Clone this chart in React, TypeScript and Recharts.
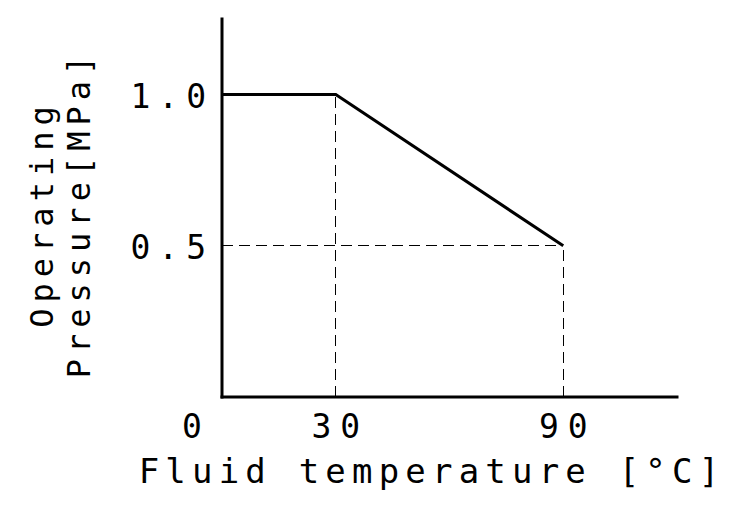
import React from "react";
import { LineChart, Line, XAxis, YAxis, ReferenceLine, Label } from "recharts";

// operating pressure vs fluid temperature
const temperatures = [0, 30, 90];
const pressures = [1.0, 1.0, 0.5];
const xTicks = [0, 30, 90];
const yTicks = [0.5, 1.0];
const xDomain: [number, number] = [0, 120];
const yDomain: [number, number] = [0, 1.25];

const FONT = '"DejaVu Sans Mono", monospace';

const data = temperatures.map((t, i) => ({ t, p: pressures[i] }));

const XTick = (props: any) => {
  const { x, y, payload } = props;
  // "0" sits left of the corner, the others are centred on their value
  const dx = payload.value === 0 ? -25.5 : 4.5;
  return (
    <text x={x + dx} y={y + 41} textAnchor="middle" fontFamily={FONT} fontSize={33} letterSpacing={9} fill="#000">
      {payload.value}
    </text>
  );
};

const YTick = (props: any) => {
  const { x, y, payload } = props;
  return (
    <text x={x - 8} y={y + 13} textAnchor="end" fontFamily={FONT} fontSize={33} letterSpacing={8} fill="#000">
      {payload.value.toFixed(1)}
    </text>
  );
};

const YTitle = () => (
  <g fontFamily={FONT} fontSize={32} letterSpacing={6} fill="#000">
    <text x={53} y={214} textAnchor="middle" transform="rotate(-90, 53, 214)">
      Operating
    </text>
    <text x={90} y={214} textAnchor="middle" transform="rotate(-90, 90, 214)">
      Pressure[MPa]
    </text>
  </g>
);

const XTitle = () => (
  <text x={432} y={483} textAnchor="middle" fontFamily={FONT} fontSize={34} letterSpacing={6.2} fill="#000">
    Fluid temperature [°C]
  </text>
);

const dashed = { stroke: "#000", strokeWidth: 1, strokeDasharray: "11 6", shapeRendering: "crispEdges" };

export default function App() {
  return (
    <div style={{ position: "absolute", left: 0, top: 0, background: "#fff" }}>
      <LineChart width={745} height={510} data={data} margin={{ top: 19, right: 68, bottom: 0, left: 0 }}>
        <XAxis
          dataKey="t"
          type="number"
          domain={xDomain}
          ticks={xTicks}
          tick={<XTick />}
          tickLine={false}
          tickSize={0}
          tickMargin={0}
          height={113}
          axisLine={{ stroke: "#000", strokeWidth: 3, strokeLinecap: "square" }}
        >
          <Label content={<XTitle />} />
        </XAxis>
        <YAxis
          type="number"
          domain={yDomain}
          ticks={yTicks}
          tick={<YTick />}
          tickLine={false}
          tickSize={0}
          tickMargin={0}
          width={222}
          axisLine={{ stroke: "#000", strokeWidth: 3, strokeLinecap: "square" }}
        >
          <Label content={<YTitle />} />
        </YAxis>
        <ReferenceLine
          segment={[{ x: temperatures[1], y: 0 }, { x: temperatures[1], y: pressures[1] }]}
          {...dashed}
        />
        <ReferenceLine
          segment={[{ x: temperatures[2], y: 0 }, { x: temperatures[2], y: pressures[2] }]}
          {...dashed}
        />
        <ReferenceLine
          segment={[{ x: temperatures[0], y: pressures[2] }, { x: temperatures[2], y: pressures[2] }]}
          {...dashed}
        />
        <Line
          type="linear"
          dataKey="p"
          stroke="#000"
          strokeWidth={3}
          dot={false}
          activeDot={false}
          isAnimationActive={false}
        />
      </LineChart>
    </div>
  );
}
